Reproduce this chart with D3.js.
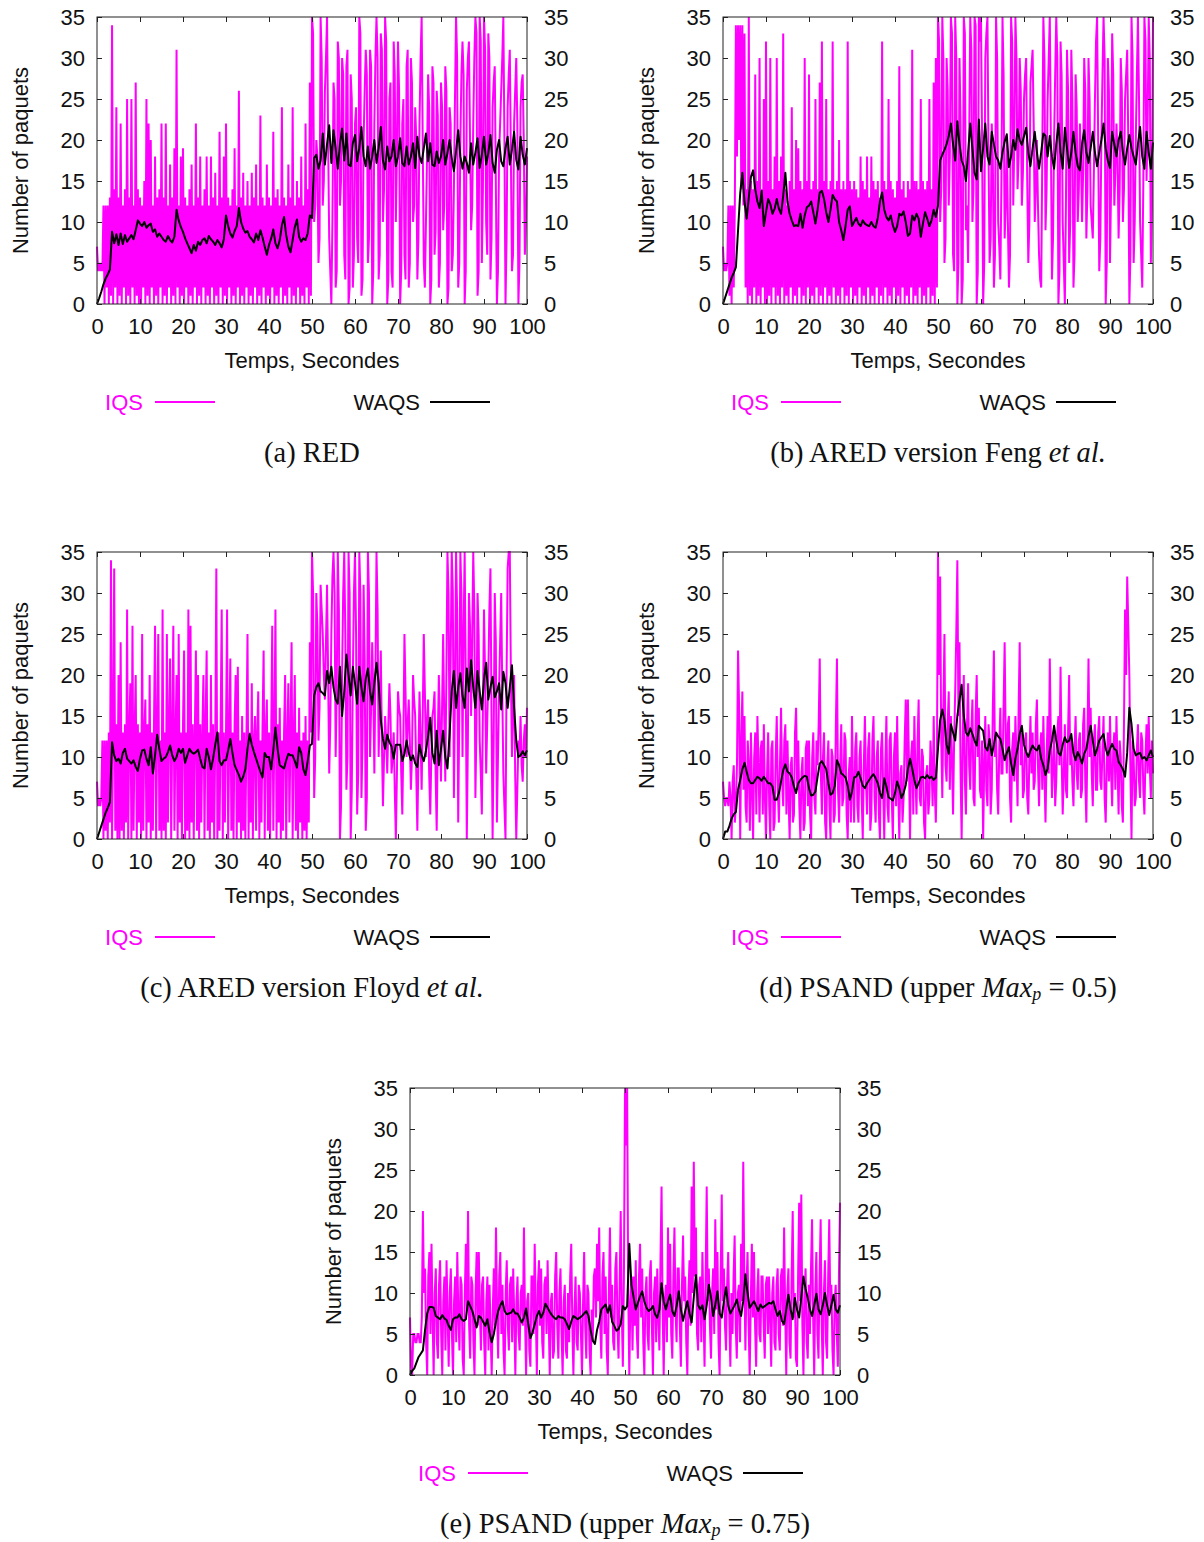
<!DOCTYPE html>
<html>
<head>
<meta charset="utf-8">
<script src="https://cdn.jsdelivr.net/npm/d3@7"></script>
<style>
body { margin: 0; background: #fff; }
svg text { font-family: "Liberation Sans", Arial, sans-serif; }
</style>
</head>
<body>
<div id="chart"></div>
<script>
// Queue size traces: IQS sampled every 0.25 s, WAQS every 0.5 s, from 0 to 100 s

const xTicks = [0, 10, 20, 30, 40, 50, 60, 70, 80, 90, 100];
const yTicks = [0, 5, 10, 15, 20, 25, 30, 35];

// (a) RED
const iqsA = [
7,4,5,4,5,4,12,0,12,2,12,0,13,1,34,0,14,2,24,0,
13,1,22,0,12,2,14,0,25,1,13,0,25,2,12,0,27,1,14,0,
13,0,12,2,15,0,25,1,22,0,20,2,12,0,18,1,13,0,14,2,
22,0,13,1,22,0,12,2,17,0,13,1,19,0,31,2,12,0,18,1,
19,0,13,2,12,0,14,1,17,0,12,2,22,0,13,1,18,0,12,2,
14,0,18,1,12,0,18,2,13,0,16,1,12,0,21,2,13,0,18,1,
22,0,13,2,12,0,14,1,19,0,12,2,26,0,13,1,16,0,12,2,
15,0,12,1,16,0,13,2,17,0,12,1,23,0,13,2,12,0,17,1,
13,0,12,2,21,0,13,1,14,0,12,2,24,0,13,1,12,0,17,2,
13,0,24,1,12,0,15,2,13,0,18,1,12,0,22,2,14,0,27,1,
35,33,10,12,20,18,5,8,35,30,12,15,26,30,35,20,8,4,0,10,
27,25,2,4,32,30,12,15,30,28,6,3,29,31,0,2,28,25,2,6,
22,24,8,5,35,33,1,3,20,26,31,28,5,8,31,29,0,4,22,30,
35,30,3,6,33,31,10,14,35,32,0,3,25,27,4,2,32,28,10,18,
32,26,0,4,22,25,6,3,29,31,2,5,30,27,10,12,24,20,3,8,
22,30,35,20,5,2,10,18,28,24,0,3,29,27,6,9,26,23,2,5,
27,24,9,12,29,26,0,2,24,22,4,6,14,25,35,30,2,5,20,28,
32,28,0,4,26,30,32,20,9,12,22,30,35,33,1,4,35,32,5,14,
35,31,10,6,33,30,3,8,24,27,29,15,0,4,18,22,26,30,35,20,
0,8,24,28,31,18,4,6,22,26,30,22,0,5,24,27,28,20,6,10,
18];
const waqsA = [
0,0.7,1.5,2.4,3.1,3.6,4.2,8.8,7.4,8.5, 7.2,8.6,7.3,8.4,7.6,8.0,8.4,7.9,9.0,10.2,
9.8,9.5,10.0,9.3,9.6,9.8,8.8,9.1,8.2,8.6, 8.2,7.8,7.6,8.3,7.8,7.5,8.2,11.5,10.2,9.4,
8.8,8.0,7.4,6.8,6.2,7.2,6.5,7.6,7.2,7.8, 8.0,7.4,8.3,7.9,7.6,7.2,7.8,7.4,6.9,7.9,
10.8,9.5,8.6,8.1,8.9,9.5,11.7,10.0,9.2,8.7, 8.9,8.2,7.9,7.5,8.6,7.8,9.0,8.1,7.0,6.0,
7.2,8.0,9.1,7.4,6.8,7.8,9.6,10.6,8.4,7.0, 6.3,7.8,9.4,10.3,8.2,7.6,8.0,7.8,8.6,10.8,
10.5,17.8,18.2,16.5,17.5,20.8,17.0,19.5,21.8,17.2, 21.2,19.0,16.5,19.5,21.4,17.5,20.8,17.0,16.8,19.6,
20.6,17.4,19.0,21.6,18.0,16.8,19.2,16.5,18.0,20.0, 17.2,19.0,21.6,17.5,16.4,19.2,17.4,18.0,20.0,16.8,
18.0,20.2,17.2,16.8,19.2,17.0,18.0,19.6,16.6,20.4, 18.0,17.2,19.0,20.8,17.4,19.6,17.0,16.8,18.6,17.2,
18.0,20.0,17.0,18.4,20.0,17.8,16.2,18.6,21.2,18.0, 16.5,18.0,17.2,16.0,19.6,17.0,18.5,20.2,16.6,18.2,
20.4,17.0,18.4,20.6,17.2,16.0,18.8,20.0,17.4,16.8, 19.0,20.4,17.0,18.8,21.0,17.6,16.4,20.4,18.2,17.0,
19.0];

// (b) ARED version Feng et al.
const iqsB = [
7,4,5,4,5,12,1,12,0,12,2,12,34,18,34,20,34,14,34,12,
33,2,14,0,35,1,15,0,14,2,28,0,15,1,30,0,14,2,25,0,
32,0,15,1,30,0,14,2,18,0,30,1,15,0,18,2,33,0,14,1,
12,0,15,2,24,0,14,1,20,0,19,2,15,0,14,1,30,0,15,2,
28,0,14,1,15,0,25,2,14,0,27,1,32,0,15,2,25,0,14,1,
15,0,32,2,14,0,15,1,20,0,14,2,15,0,14,1,32,0,15,2,
14,0,15,1,14,0,13,2,18,0,15,1,14,0,18,2,13,0,18,1,
15,0,14,2,15,0,13,1,32,0,15,2,14,0,25,1,15,0,14,2,
13,0,15,1,29,0,14,2,15,0,13,1,15,0,14,2,31,0,15,1,
15,0,14,2,25,0,15,1,14,0,15,2,25,0,14,1,27,0,30,2,
35,32,10,14,35,30,5,8,30,26,12,18,35,33,6,4,35,30,0,5,
30,22,0,3,35,33,9,12,5,20,35,31,10,14,35,34,0,4,35,32,
35,20,0,5,30,33,35,18,5,8,22,18,2,6,35,30,10,7,3,15,
35,28,8,12,20,10,2,6,35,32,12,20,35,30,14,18,30,26,12,16,
25,28,30,15,5,10,27,29,31,22,10,14,20,12,6,3,2,18,35,30,
9,14,25,30,35,20,3,8,20,28,35,30,0,4,32,28,10,5,0,12,
31,26,5,10,31,25,2,6,28,24,10,14,22,18,10,16,30,26,8,14,
30,25,12,10,8,16,25,32,35,20,4,8,20,28,35,30,0,5,30,26,
5,14,33,28,12,16,22,18,8,14,30,26,10,14,25,28,31,20,0,6,
35,30,5,10,20,28,35,25,10,6,2,15,35,32,15,22,35,30,5,12,
35];
const waqsB = [
0,0.8,1.6,2.4,3.2,3.8,4.5,9.0,13.5,16.0, 12.5,10.4,13.0,15.5,16.3,14.0,12.5,11.7,13.8,9.5,
11.2,12.8,12.2,11.0,11.6,12.8,11.6,11.0,13.2,16.0, 12.5,11.0,10.2,9.5,9.6,9.5,11.0,9.3,10.8,11.8,
12.0,12.5,11.2,9.8,11.5,13.6,13.8,12.8,11.2,10.0, 11.5,13.3,12.8,12.5,10.0,9.0,7.8,9.5,11.5,11.9,
9.5,10.0,10.5,9.8,9.5,10.2,9.8,9.6,9.5,10.0, 9.5,9.3,10.5,12.5,13.6,11.5,10.6,10.2,10.8,9.6,
8.8,9.5,11.0,10.8,11.3,10.0,8.3,8.6,10.8,10.2, 11.0,10.4,8.2,9.8,11.2,10.4,9.5,10.2,11.5,10.6,
12.0,17.5,18.2,18.8,19.5,20.5,22.0,19.5,17.5,22.3, 19.5,17.5,16.8,15.0,18.5,22.0,19.0,16.0,15.2,22.5,
16.2,19.0,22.0,18.0,17.0,21.0,19.5,18.0,17.5,16.5, 18.5,19.8,20.7,16.7,18.0,20.0,18.8,21.3,20.0,19.4,
20.5,21.5,18.5,16.8,19.0,21.0,18.5,16.5,18.5,20.8, 20.5,18.0,20.5,18.0,16.5,19.5,22.0,18.5,16.5,21.5,
19.0,16.6,18.5,21.0,18.5,16.8,16.3,19.5,21.2,18.5, 17.2,19.0,21.0,18.5,16.8,18.5,20.0,22.0,19.0,17.5,
16.6,21.0,19.5,18.0,20.0,21.0,18.5,17.0,19.0,20.6, 19.0,18.0,17.0,19.5,21.6,18.0,16.5,21.0,18.5,16.5,
19.7];

// (c) ARED version Floyd et al.
const iqsC = [
7,4,5,4,5,12,0,12,1,12,0,13,2,34,0,13,33,1,14,0,
20,0,24,1,13,0,14,2,28,0,13,19,0,26,1,13,20,0,14,2,
13,0,25,1,13,17,0,14,2,20,0,13,1,14,26,0,13,25,1,12,
0,28,1,13,0,25,2,14,22,0,13,26,1,12,20,0,25,2,13,0,
14,23,0,13,1,28,0,26,2,14,0,13,23,1,20,0,14,2,13,20,
0,14,23,1,13,0,20,2,14,0,12,33,0,13,1,14,28,0,13,2,
13,28,0,12,22,1,13,0,14,20,0,21,2,12,0,15,1,13,0,12,
25,0,13,2,19,0,12,15,1,13,18,0,12,2,14,23,0,13,17,1,
13,0,12,26,1,13,28,0,14,2,16,0,12,1,13,20,0,12,19,2,
13,24,0,12,20,1,13,0,16,2,12,0,13,1,15,0,12,2,24,13,
35,30,5,10,30,26,12,16,31,28,25,20,17,24,31,20,8,14,25,32,
35,30,10,18,35,28,0,4,20,30,35,25,6,10,35,30,0,6,20,30,
35,25,3,8,35,30,5,12,31,22,1,5,35,30,10,16,24,18,8,20,
35,28,10,16,23,12,4,10,15,12,8,14,19,15,8,10,13,6,0,8,
18,16,15,8,3,12,25,18,10,14,17,12,6,10,20,17,15,8,1,10,
18,12,6,15,25,18,10,14,17,8,3,10,15,16,18,8,1,12,20,14,
7,16,25,15,7,20,35,30,10,22,35,30,5,18,35,28,2,15,35,30,
10,25,35,20,0,12,30,26,15,24,35,28,5,14,30,25,12,8,3,16,
28,20,8,14,20,28,33,15,0,12,30,24,2,10,18,24,30,18,8,4,
0,20,33,35,35,20,10,16,20,8,0,6,12,10,15,9,7,12,14,10,
16];
const waqsC = [
0,0.8,1.6,2.4,3.2,3.8,4.5,11.8,10.2,9.5, 9.8,9.2,10.5,11.0,9.8,9.5,9.2,9.6,8.8,8.3,
9.8,10.8,10.9,9.8,9.0,11.2,8.0,10.2,12.7,11.0, 9.5,9.8,10.0,10.6,11.4,10.2,9.5,10.0,11.0,10.5,
11.0,9.3,10.2,11.0,10.6,10.4,10.6,10.9,9.8,8.8, 8.6,11.0,10.0,8.5,9.8,11.5,13.0,9.5,9.0,9.6,
9.6,10.8,12.2,10.5,9.0,8.4,7.8,7.0,7.6,8.5, 11.0,12.8,11.5,10.6,9.8,9.0,8.2,7.5,10.5,10.0,
10.0,8.5,10.8,13.6,11.0,9.0,8.8,8.6,9.6,10.4, 10.2,10.2,9.5,8.7,11.2,10.5,8.5,7.8,9.5,11.4,
11.6,17.5,18.5,19.0,18.0,17.8,17.5,20.5,19.0,21.0, 18.5,17.0,16.5,21.0,15.0,18.0,22.5,20.0,17.5,21.0,
19.0,16.5,21.0,18.5,16.8,19.5,20.8,18.0,16.4,19.0, 21.5,19.0,14.5,12.2,11.0,12.7,11.8,11.3,9.8,11.5,
11.5,11.5,9.5,10.4,12.0,10.5,9.6,10.2,9.2,8.8, 11.5,10.2,9.5,10.8,12.5,14.8,10.5,9.2,13.2,9.0,
11.0,13.2,10.0,8.6,12.8,18.0,20.5,16.0,18.5,20.2, 17.5,16.0,20.8,18.0,21.8,18.5,16.0,20.5,18.0,15.8,
19.5,21.5,17.0,18.5,19.8,17.3,18.0,19.0,15.8,20.4, 19.0,16.0,18.5,21.2,16.0,12.0,10.0,10.2,10.7,10.2,
10.8];

// (d) PSAND, upper Max_p = 0.5
const iqsD = [
7,5,4,5,5,4,7,5,0,7,9,2,4,9,23,16,0,12,18,6,
15,4,2,12,9,1,13,6,0,10,13,3,15,9,2,11,12,3,14,5,
0,8,13,4,0,11,12,1,2,10,15,6,2,9,16,7,4,12,14,3,
12,5,0,9,10,2,3,13,16,6,12,4,0,8,10,1,2,11,12,4,
12,3,0,10,13,5,3,12,9,14,22,8,3,10,13,2,0,9,12,4,
0,11,10,2,3,14,22,6,2,9,14,4,5,13,12,3,0,8,10,2,
15,6,2,11,13,4,2,10,12,5,0,9,15,7,3,11,13,1,3,12,
15,5,2,10,12,3,0,11,13,6,0,9,15,4,2,12,13,5,0,10,
13,4,15,6,0,8,9,2,5,12,17,7,17,9,0,10,12,3,15,8,
3,12,17,5,4,11,10,2,0,8,9,3,5,12,9,4,15,6,2,10,
35,20,32,12,5,16,25,9,7,14,18,6,15,10,3,12,18,25,34,15,
24,8,0,12,20,7,3,14,19,9,6,13,17,5,4,15,20,10,16,6,
5,12,0,9,15,6,4,14,12,3,6,16,23,10,13,6,3,11,16,8,
8,16,24,12,8,14,15,5,2,11,13,7,15,10,4,16,24,9,13,5,
6,12,13,5,3,10,15,8,13,6,7,14,17,9,4,11,13,6,15,8,
2,10,15,8,22,12,5,9,13,4,7,13,15,9,21,10,3,8,14,6,
5,13,20,9,12,7,4,11,15,8,6,12,13,5,6,14,16,7,2,12,
22,10,16,8,4,12,14,6,6,13,15,7,6,11,15,5,2,9,13,7,
15,8,4,11,13,6,15,9,3,12,10,4,2,14,28,20,32,26,20,8,
0,12,10,4,5,11,14,7,5,13,12,6,3,10,14,8,15,9,5,12,
8];
const waqsD = [
0,0.9,0.9,1.6,2.5,3.0,3.3,6.0,7.2,8.5, 9.3,8.2,7.2,6.8,6.8,7.2,7.6,7.4,7.1,7.6,
7.2,6.8,6.8,6.4,4.8,4.8,5.6,7.0,8.4,9.1, 8.2,8.0,7.5,6.4,5.6,6.8,7.2,7.5,7.7,7.6,
6.2,5.3,5.4,5.8,7.6,9.2,9.5,9.0,8.5,6.8, 5.4,5.6,6.5,9.6,9.0,8.0,7.8,7.5,6.5,4.8,
5.8,7.5,7.6,8.2,7.4,6.5,6.2,6.8,7.2,7.6, 7.9,7.4,6.8,5.6,5.0,7.4,6.4,5.1,4.9,4.7,
5.6,7.0,6.2,5.0,5.6,6.6,8.5,9.8,8.6,7.2, 6.2,6.8,7.5,7.6,7.4,7.8,7.4,7.6,7.2,7.5,
11.0,14.5,15.8,14.5,11.5,10.4,14.0,13.0,12.0,15.0, 17.0,18.8,15.0,13.0,12.6,13.5,12.8,12.0,11.4,13.8,
13.5,13.2,11.2,10.8,12.2,10.2,11.5,13.0,12.5,12.2, 11.0,9.6,10.5,11.2,9.2,7.8,9.8,11.0,12.8,13.8,
11.5,10.6,10.0,10.8,11.4,11.0,10.8,11.4,9.8,9.0, 7.8,8.6,10.8,12.0,13.8,12.0,10.5,10.2,11.5,12.4,
11.8,12.0,12.8,10.5,9.6,10.6,10.0,9.2,10.4,11.0, 12.5,13.8,12.0,10.2,11.0,12.0,12.4,12.8,11.0,10.2,
11.0,11.6,11.0,10.8,9.4,9.0,8.5,7.6,10.5,16.0, 14.0,11.0,10.2,10.4,10.5,9.8,10.0,9.6,10.2,10.8,
10.0];

// (e) PSAND, upper Max_p = 0.75
const iqsE = [
7,1,0,5,5,4,4,5,5,4,4,7,20,10,13,4,0,12,15,5,
16,7,0,10,13,4,2,11,14,5,0,9,12,3,14,7,1,10,13,5,
0,9,12,4,15,7,3,12,11,2,0,10,16,8,20,6,2,12,11,4,
0,10,15,6,15,8,3,11,12,4,0,9,12,3,11,5,0,8,13,6,
18,8,2,12,15,5,11,3,0,10,14,6,3,11,12,4,13,7,0,9,
12,5,3,10,11,6,18,7,0,9,10,3,1,12,12,5,16,8,0,11,
14,6,13,4,2,11,12,5,14,7,0,9,10,2,3,12,15,6,2,10,
13,5,0,9,11,3,2,10,4,12,16,6,0,8,12,4,3,11,10,5,
0,9,15,6,2,11,10,3,0,8,4,12,13,7,16,9,18,6,2,12,
15,5,12,3,0,10,18,7,11,4,3,13,15,6,2,11,20,8,1,12,
35,28,35,10,0,9,12,3,12,6,14,5,2,12,16,7,13,4,0,10,
12,5,3,12,14,6,0,10,12,4,13,7,3,14,23,8,0,9,11,4,
18,7,16,5,2,12,18,8,4,13,13,6,1,11,17,9,12,4,0,10,
14,6,23,10,26,12,18,5,3,11,12,4,15,8,1,12,23,9,13,6,
2,10,13,5,19,8,15,4,0,12,22,9,13,6,3,11,15,7,1,10,
5,12,17,6,2,10,11,4,16,9,26,12,3,11,15,6,0,9,16,7,
15,6,1,10,13,5,4,12,12,6,2,11,12,5,12,7,1,10,12,4,
3,11,13,5,3,12,13,6,18,8,0,10,13,4,2,12,20,7,10,2,
1,12,21,9,22,6,0,10,13,4,2,11,5,13,19,7,0,10,15,5,
2,12,19,6,0,10,14,4,2,12,19,8,11,3,0,9,11,5,1,12,
21];
const waqsE = [
0,0.5,0.8,1.5,2.2,2.6,3.0,5.5,7.5,8.3, 8.3,8.2,7.2,7.0,6.8,7.3,6.9,6.7,6.0,5.5,
6.8,7.0,7.0,7.4,6.8,6.6,6.8,9.0,8.4,7.8, 6.8,5.8,7.2,7.0,6.5,6.0,6.8,5.2,4.0,5.0,
6.5,7.8,8.5,9.0,7.8,7.4,7.5,7.6,8.0,7.5, 7.5,7.0,6.4,7.0,8.1,6.2,4.5,5.2,6.2,7.2,
7.8,7.0,7.6,8.7,8.2,7.7,7.3,7.0,6.8,7.2, 7.0,7.0,6.8,6.2,5.6,6.5,7.2,7.0,6.8,7.0,
7.2,7.5,7.8,7.2,5.5,4.2,3.8,5.5,6.5,8.0, 8.3,8.6,7.6,8.5,6.5,6.0,5.4,5.6,6.2,8.4,
8.0,8.4,16.0,11.0,9.5,8.0,8.8,9.6,10.2,9.0, 8.2,7.8,8.0,8.4,7.4,7.0,8.0,11.2,9.0,8.0,
9.0,9.8,7.8,7.2,8.4,10.2,8.0,6.6,7.8,9.0, 7.5,6.4,9.5,12.2,8.5,8.0,8.5,6.8,8.5,11.0,
9.5,7.2,8.6,10.2,7.5,7.0,9.0,10.7,8.5,7.5, 8.0,8.5,9.2,8.0,7.2,9.0,12.3,10.0,8.2,8.6,
9.0,8.4,7.8,8.6,8.2,8.4,8.6,8.8,8.7,9.0, 8.0,7.2,7.8,6.6,6.2,8.0,9.8,8.0,6.8,9.4,
8.0,7.0,9.5,12.0,10.5,9.4,8.0,7.2,8.5,9.9, 8.0,7.4,8.5,10.0,8.5,7.3,8.5,9.8,8.0,7.6,
8.5];

const tIqs = d3.range(0, 100.001, 0.25);
const tWaqs = d3.range(0, 100.001, 0.5);

const panels = [
  { iqs: iqsA, waqs: waqsA, left: 97, top: 17,
    caption: [{ t: "(a) RED" }] },
  { iqs: iqsB, waqs: waqsB, left: 723, top: 17,
    caption: [{ t: "(b) ARED version Feng " }, { t: "et al.", it: true }] },
  { iqs: iqsC, waqs: waqsC, left: 97, top: 552,
    caption: [{ t: "(c) ARED version Floyd " }, { t: "et al.", it: true }] },
  { iqs: iqsD, waqs: waqsD, left: 723, top: 552,
    caption: [{ t: "(d) PSAND (upper " }, { t: "Max", it: true }, { t: "p", it: true, sub: true }, { t: " = 0.5)" }] },
  { iqs: iqsE, waqs: waqsE, left: 410, top: 1088,
    caption: [{ t: "(e) PSAND (upper " }, { t: "Max", it: true }, { t: "p", it: true, sub: true }, { t: " = 0.75)" }] }
];

const plotW = 430, plotH = 287;
const magenta = "#ff00ff";

const svg = d3.select("#chart").append("svg")
  .attr("width", 1204)
  .attr("height", 1542);

function drawPanel(p) {
  const g = svg.append("g").attr("transform", `translate(${p.left},${p.top})`);

  const x = d3.scaleLinear().domain([0, 100]).range([0, plotW]);
  const y = d3.scaleLinear().domain([0, 35]).range([plotH, 0]);

  const lineFor = times => d3.line()
    .x((d, i) => x(times[i]))
    .y(d => y(d));

  // IQS first, WAQS on top
  g.append("path").datum(p.iqs)
    .attr("fill", "none").attr("stroke", magenta).attr("stroke-width", 2)
    .attr("d", lineFor(tIqs));
  g.append("path").datum(p.waqs)
    .attr("fill", "none").attr("stroke", "#000").attr("stroke-width", 2)
    .attr("stroke-linejoin", "round").attr("d", lineFor(tWaqs));

  // frame
  g.append("rect").attr("width", plotW).attr("height", plotH)
    .attr("fill", "none").attr("stroke", "#222").attr("stroke-width", 1);

  // axes, ticks pointing inward on all four sides
  const styleAxis = sel => {
    sel.attr("font-size", 22).attr("font-family", "Liberation Sans, Arial, sans-serif").attr("color", "#222");
    sel.select(".domain").remove();
  };
  g.append("g").attr("transform", `translate(0,${plotH})`)
    .call(d3.axisBottom(x).tickValues(xTicks).tickSizeInner(-5).tickSizeOuter(0).tickPadding(14))
    .call(styleAxis);
  g.append("g")
    .call(d3.axisTop(x).tickValues(xTicks).tickSizeInner(-5).tickSizeOuter(0).tickFormat(""))
    .call(styleAxis);
  g.append("g")
    .call(d3.axisLeft(y).tickValues(yTicks).tickSizeInner(-5).tickSizeOuter(0).tickPadding(12))
    .call(styleAxis);
  g.append("g").attr("transform", `translate(${plotW},0)`)
    .call(d3.axisRight(y).tickValues(yTicks).tickSizeInner(-5).tickSizeOuter(0).tickPadding(17))
    .call(styleAxis);
  g.selectAll(".tick text").attr("fill", "#111");

  // axis titles
  g.append("text")
    .attr("x", plotW / 2).attr("y", plotH + 56)
    .attr("text-anchor", "middle").attr("dominant-baseline", "central")
    .attr("font-size", 22).attr("fill", "#111")
    .text("Temps, Secondes");
  g.append("text")
    .attr("transform", `translate(-77,${plotH / 2}) rotate(-90)`)
    .attr("text-anchor", "middle").attr("dominant-baseline", "central")
    .attr("font-size", 22).attr("fill", "#111")
    .text("Number of paquets");

  // legend
  const ly = plotH + 98;
  g.append("text").attr("x", 46).attr("y", ly)
    .attr("text-anchor", "end").attr("dominant-baseline", "central")
    .attr("font-size", 22).attr("fill", magenta).text("IQS");
  g.append("line").attr("x1", 58).attr("x2", 118).attr("y1", ly).attr("y2", ly)
    .attr("stroke", magenta).attr("stroke-width", 2);
  g.append("text").attr("x", 323).attr("y", ly)
    .attr("text-anchor", "end").attr("dominant-baseline", "central")
    .attr("font-size", 22).attr("fill", "#111").text("WAQS");
  g.append("line").attr("x1", 333).attr("x2", 393).attr("y1", ly).attr("y2", ly)
    .attr("stroke", "#000").attr("stroke-width", 2);

  // caption
  const cap = g.append("text")
    .attr("x", plotW / 2).attr("y", plotH + 158)
    .attr("text-anchor", "middle")
    .style("font-family", "'Liberation Serif', 'DejaVu Serif', serif")
    .attr("font-size", 28.5).attr("fill", "#111");
  p.caption.forEach(s => {
    const ts = cap.append("tspan").text(s.t);
    if (s.it) ts.attr("font-style", "italic");
    if (s.sub) ts.attr("font-size", 18).attr("baseline-shift", "-18%");
  });
}

panels.forEach(drawPanel);
</script>
</body>
</html>
